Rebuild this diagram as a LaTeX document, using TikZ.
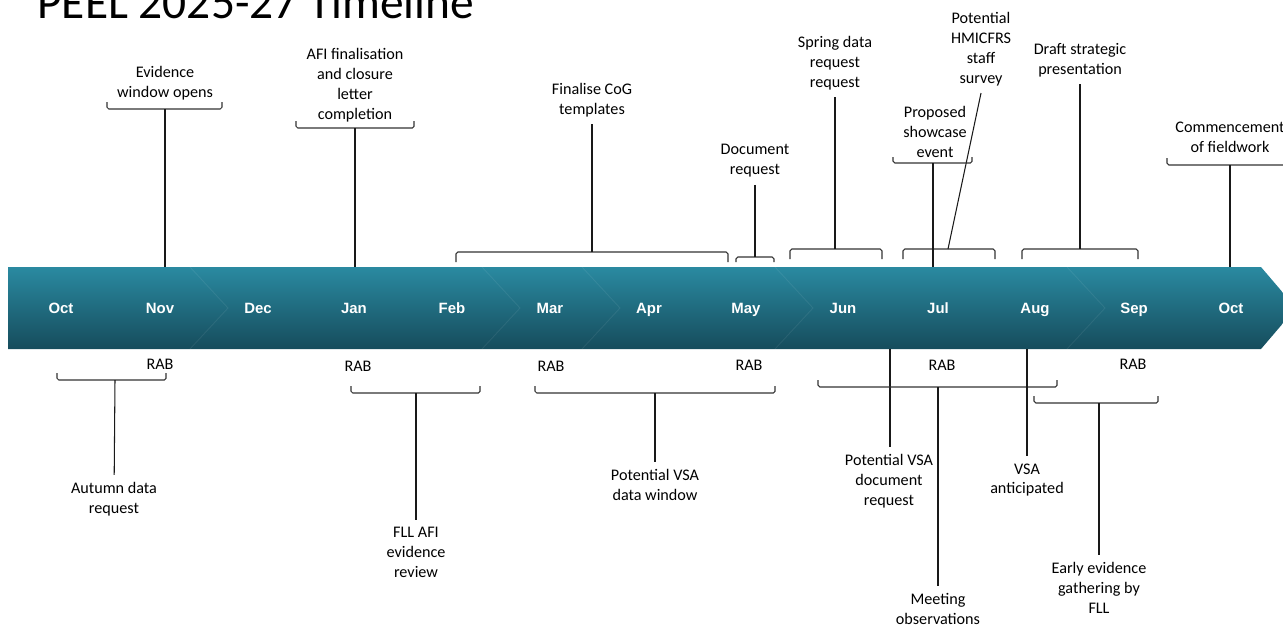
\documentclass[tikz,border=0pt]{standalone}
\usepackage{fontspec}
\setmainfont{Carlito}
\newfontfamily\monthfont{Liberation Sans}
\usetikzlibrary{positioning}
\definecolor{bandtop}{RGB}{42,138,161}
\definecolor{bandbot}{RGB}{22,76,92}
\tikzstyle{event} = [
	align = center,
	inner sep = 4pt,
	font = \fontsize{9.2}{11.3}\selectfont
]
\tikzstyle{month} = [
	text = white,
	text height = 1.6ex,
	text depth = 0.4ex,
	font = \monthfont\bfseries\fontsize{8.5}{10}\selectfont
]
\tikzstyle{brace} = [line width = 0.6pt, black!80, rounded corners = 1pt]
\tikzstyle{stem} = [line width = 0.6pt, black!90]
\tikzstyle{chevron} = [white, opacity = 0.07, line width = 0.5pt]

\begin{document}
\begin{tikzpicture}[x=0.2mm, y=-0.2mm]
	\useasboundingbox (0,0) rectangle (1283,628);
	\node[anchor=base west, inner sep=0pt, font=\fontsize{27}{30}\selectfont] (title) at (37,18) {PEEL 2025-27 Timeline};
	
	% the band
	\path[top color=bandtop, bottom color=bandbot] (8,267) -- (1261,267) -- (1296,308) -- (1261,349) -- (8,349) -- cycle;
	\draw[chevron] (190,267) -- (228,308) -- (190,349);
	\draw[chevron] (482,267) -- (520,308) -- (482,349);
	\draw[chevron] (582,267) -- (620,308) -- (582,349);
	\draw[chevron] (775,267) -- (813,308) -- (775,349);
	\draw[chevron] (1067,267) -- (1105,308) -- (1067,349);
	\node[month] (oct1) at (61,308) {Oct};
	\node[month] (nov) at (160,308) {Nov};
	\node[month] (dec) at (258,308) {Dec};
	\node[month] (jan) at (354,308) {Jan};
	\node[month] (feb) at (452,308) {Feb};
	\node[month] (mar) at (550,308) {Mar};
	\node[month] (apr) at (649,308) {Apr};
	\node[month] (may) at (746,308) {May};
	\node[month] (jun) at (843,308) {Jun};
	\node[month] (jul) at (938,308) {Jul};
	\node[month] (aug) at (1035,308) {Aug};
	\node[month] (sep) at (1134,308) {Sep};
	\node[month] (oct2) at (1231,308) {Oct};
	
	% above the band
	\node[event] (evid) at (165,83) {Evidence\\window opens};
	\coordinate (evidB) at (165,109);
	\coordinate (evidT) at (165,267);
	\draw[brace] (107,102) -- (107,109) -- (222,109) -- (222,102);
	\draw[stem] (evidB) -- (evidT);
	
	\node[event] (afi) at (355,85) {AFI finalisation\\and closure\\letter\\completion};
	\coordinate (afiB) at (355,128);
	\coordinate (afiT) at (355,267);
	\draw[brace] (296,121) -- (296,128) -- (414,128) -- (414,121);
	\draw[stem] (afiB) -- (afiT);
	
	\node[event] (cog) at (592,100) {Finalise CoG\\templates};
	\coordinate (cogB) at (592,252);
	\draw[brace] (456,262) -- (456,252) -- (728,252) -- (728,262);
	\draw[stem] (cog) -- (cogB);
	
	\node[event] (doc) at (755,161) {Document\\request};
	\coordinate (docB) at (755,257);
	\draw[brace] (736,262) -- (736,257) -- (774,257) -- (774,262);
	\draw[stem] (doc) -- (docB);
	
	\node[event] (spring) at (835,63) {Spring data\\request\\request};
	\coordinate (springB) at (835,249);
	\draw[brace] (790,259) -- (790,249) -- (882,249) -- (882,259);
	\draw[stem] (spring) -- (springB);
	
	\node[event] (hmic) at (981,49) {Potential\\HMICFRS\\staff\\survey};
	\coordinate (hmicB) at (948,249);
	\draw[brace] (903,259) -- (903,249) -- (995,249) -- (995,259);
	\draw[stem] (hmic.south) -- (hmicB);
	
	\node[event] (show) at (935,132) {Proposed\\showcase\\event};
	\coordinate (showB) at (933,163);
	\coordinate (showT) at (933,267);
	\draw[brace] (893,157) -- (893,163) -- (972,163) -- (972,157);
	\draw[stem] (showB) -- (showT);
	
	\node[event] (draft) at (1080,60) {Draft strategic\\presentation};
	\coordinate (draftB) at (1080,249);
	\draw[brace] (1022,259) -- (1022,249) -- (1138,249) -- (1138,259);
	\draw[stem] (draft) -- (draftB);
	
	\node[event] (comm) at (1230,137) {Commencement\\of fieldwork};
	\coordinate (commB) at (1230,165);
	\coordinate (commT) at (1230,267);
	\draw[brace] (1167,158) -- (1167,165) -- (1300,165);
	\draw[stem] (commB) -- (commT);
	
	% below the band
	\node[event] (rab1) at (160,364) {RAB};
	\node[event] (rab2) at (358,366) {RAB};
	\node[event] (rab3) at (551,366) {RAB};
	\node[event] (rab4) at (749,365) {RAB};
	\node[event] (rab5) at (942,365) {RAB};
	\node[event] (rab6) at (1133,364) {RAB};
	
	\node[event] (autumn) at (114,499) {Autumn data\\request};
	\coordinate (autumnB) at (115,380);
	\draw[brace] (57,373) -- (57,380) -- (166,380) -- (166,373);
	\draw[stem] (autumnB) -- (autumn);
	
	\node[event] (fll) at (416,552) {FLL AFI\\evidence\\review};
	\coordinate (fllB) at (416,393);
	\draw[brace] (351,386) -- (351,393) -- (480,393) -- (480,386);
	\draw[stem] (fllB) -- (fll);
	
	\node[event] (vsadata) at (655,485) {Potential VSA\\data window};
	\coordinate (vsadataB) at (655,393);
	\draw[brace] (535,386) -- (535,393) -- (775,393) -- (775,386);
	\draw[stem] (vsadataB) -- (vsadata);
	
	\node[event] (vsadoc) at (889,481) {Potential VSA\\document\\request};
	\coordinate (vsadocT) at (890,349);
	\draw[stem] (vsadocT) -- (vsadoc.north -| vsadocT);
	
	\node[event] (meet) at (938,609) {Meeting\\observations};
	\coordinate (meetB) at (938,387);
	\draw[brace] (818,380) -- (818,387) -- (1057,387) -- (1057,380);
	\draw[stem] (meetB) -- (meet);
	
	\node[event] (vsaant) at (1027,480) {VSA\\anticipated};
	\coordinate (vsaantT) at (1027,349);
	\draw[stem] (vsaantT) -- (vsaant);
	
	\node[event] (early) at (1099,588) {Early evidence\\gathering by\\FLL};
	\coordinate (earlyB) at (1099,403);
	\draw[brace] (1034,396) -- (1034,403) -- (1158,403) -- (1158,396);
	\draw[stem] (earlyB) -- (early);
	
\end{tikzpicture}
\end{document}
